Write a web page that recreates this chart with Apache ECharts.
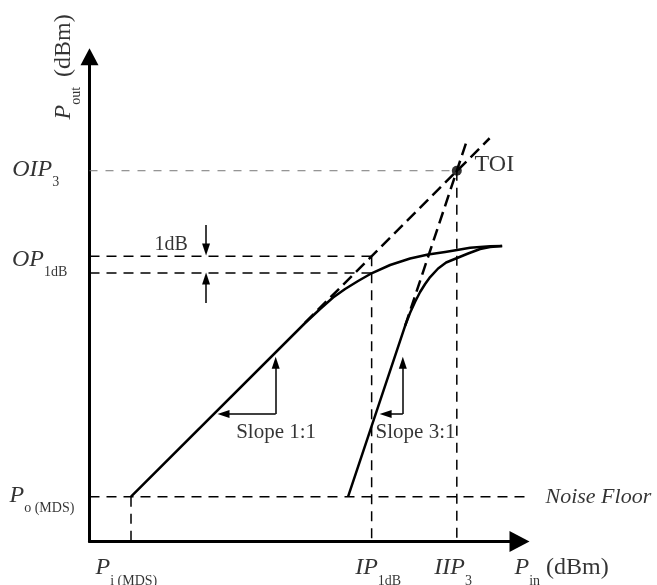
<!DOCTYPE html>
<html><head><meta charset="utf-8">
<script src="https://cdn.jsdelivr.net/npm/echarts@6/dist/echarts.min.js"></script>
<style>html,body{margin:0;padding:0;background:#fff}#c{width:657px;height:585px}</style>
</head><body><div id="c"></div>
<script>
// ---------- data (arbitrary dB units) ----------
// fundamental output (solid, compressing)
const fundIn  = [9.43, 48.98, 52.39, 55.34, 58.07, 61.02, 64.20, 68.30, 72.84, 76.93, 80.80, 83.52, 86.48, 88.75, 91.02, 93.75];
const fundOut = [10.18, 49.66, 52.84, 55.45, 57.39, 59.20, 61.02, 62.84, 64.32, 65.23, 65.80, 66.25, 66.75, 66.95, 67.09, 67.16];
// third-order intermod output (solid)
const imd3In  = [58.75, 71.70, 72.84, 73.98, 75.11, 76.25, 77.39, 79.20, 81.02, 83.52, 86.02, 88.75, 91.02, 93.75];
const imd3Out = [10.18, 49.02, 51.98, 54.50, 56.70, 58.52, 60.11, 62.05, 63.41, 64.43, 65.45, 66.48, 66.93, 67.16];
// extrapolated (dashed) slopes
const fundExtIn = [48.98, 90.9];  const fundExtOut = [49.73, 91.65];
const imd3ExtIn = [71.70, 85.9];  const imd3ExtOut = [49.02, 91.62];
// marked input levels (x) and output levels (y)
const xMarkLabels = ['P|i (MDS)', 'IP|1dB', 'IIP|3'];
const xMarkValues = [9.43, 64.1, 83.45];
const yMarkLabels = ['P|o (MDS)', 'OP|1dB', 'OIP|3'];
const yMarkValues = [10.18, 64.85, 84.27];
const op1dBLower = 61.0;
const noiseFloorEnd = 101.9;
const axisMax = [98.6, 110.8];
// annotation arrows [x0, y0, x1, y1]
const arrows = [
  [26.48, 71.93, 26.48, 66.36],
  [26.48, 54.2, 26.48, 59.77],
  [42.3, 29.0, 42.3, 40.6],
  [42.3, 29.0, 30.45, 29.0],
  [71.18, 29.0, 71.18, 40.6],
  [71.18, 29.0, 67.27, 29.0]
];
const slopeCorners = [[42.3, 29.0], [71.18, 29.0]];
const slopeTexts = ['Slope 1:1', 'Slope 3:1'];

// ---------- chart ----------
const F = 'Liberation Serif';
const rich = {
  m: {fontFamily: F, fontStyle: 'italic', fontSize: 24, lineHeight: 40, color: '#000'},
  s: {fontFamily: F, fontSize: 14, lineHeight: 18, verticalAlign: 'bottom', color: '#000'},
  u: {fontFamily: F, fontSize: 24, lineHeight: 40, color: '#000', padding: [0, 0, 0, 6]},
  w: {fontFamily: F, fontSize: 24, lineHeight: 40, color: '#000', padding: [0, 0, 0, 10]},
  t: {fontFamily: F, fontSize: 24, lineHeight: 26, color: '#000'},
  n: {fontFamily: F, fontStyle: 'italic', fontSize: 22, lineHeight: 26, color: '#000'},
  k: {fontFamily: F, fontSize: 20, lineHeight: 24, color: '#000'},
  q: {fontFamily: F, fontSize: 21, lineHeight: 24, color: '#000'}
};
function sub(s) { const p = s.split('|'); return '{m|' + p[0] + '}{s|' + p[1] + '}'; }
const zip = (a, b) => a.map((v, i) => [v, b[i]]);

function lbl(value, text, pos, extra) {
  return {value: value, label: Object.assign({show: true, formatter: text, position: pos,
    align: 'left', verticalAlign: 'middle', rich: rich}, extra || {})};
}
const labelData = [
  lbl([0, yMarkValues[2]], sub(yMarkLabels[2]), [-76.8, -1]),
  lbl([0, yMarkValues[1]], sub(yMarkLabels[1]), [-77, 4]),
  lbl([0, yMarkValues[0]], sub(yMarkLabels[0]), [-79.5, -1]),
  lbl([xMarkValues[0], 0], sub(xMarkLabels[0]), [-35, 27]),
  lbl([xMarkValues[1], 0], sub(xMarkLabels[1]), [-16, 27]),
  lbl([xMarkValues[2], 0], sub(xMarkLabels[2]), [-22, 27]),
  lbl([axisMax[0], 0], '{m|P}{s|in}{u|(dBm)}', [-8.5, 27]),
  lbl([0, axisMax[1]], '{m|P}{s|out}{w|(dBm)}', [-25.5, 66], {rotate: 90}),
  lbl([xMarkValues[2], yMarkValues[2]], '{t|TOI}', [18.3, -6]),
  lbl([0, yMarkValues[1]], '{k|1dB}', [65.5, -11]),
  lbl(slopeCorners[0], '{q|' + slopeTexts[0] + '}', [-39, 19]),
  lbl(slopeCorners[1], '{q|' + slopeTexts[1] + '}', [-26.7, 19]),
  lbl([0, yMarkValues[0]], '{n|Noise Floor}', [456.5, 1])
];

const guide = (data, color, width, dash) => ({
  type: 'line', data: data, symbol: 'none', silent: true, clip: false,
  lineStyle: {color: color, width: width, type: dash}, z: 1
});

const option = {
  animation: false,
  grid: {left: 89.5, top: 54, width: 434, height: 487.5},
  xAxis: {
    type: 'value', min: 0, max: axisMax[0],
    axisLine: {show: true, onZero: false, symbol: ['none', 'triangle'], symbolSize: [21, 20], symbolOffset: [0, -4],
      lineStyle: {color: '#000', width: 3}},
    axisTick: {show: false}, axisLabel: {show: false}, splitLine: {show: false}
  },
  yAxis: {
    type: 'value', min: 0, max: axisMax[1],
    axisLine: {show: true, onZero: false, symbol: ['none', 'triangle'], symbolSize: [18, 17], symbolOffset: [0, -2.8],
      lineStyle: {color: '#000', width: 3}},
    axisTick: {show: false}, axisLabel: {show: false}, splitLine: {show: false}
  },
  series: [
    guide([[0, yMarkValues[2]], [xMarkValues[2], yMarkValues[2]]], '#777', 1, [8, 8]),
    guide([[xMarkValues[2], yMarkValues[2]], [xMarkValues[2], 0]], '#000', 1.5, [10, 7]),
    guide([[0, yMarkValues[1]], [xMarkValues[1], yMarkValues[1]]], '#000', 1.5, [10, 7]),
    guide([[0, op1dBLower], [xMarkValues[1], op1dBLower]], '#000', 1.5, [10, 7]),
    guide([[xMarkValues[1], yMarkValues[1]], [xMarkValues[1], 0]], '#000', 1.5, [10, 7]),
    guide([[0, yMarkValues[0]], [noiseFloorEnd, yMarkValues[0]]], '#000', 1.5, [10, 7]),
    guide([[xMarkValues[0], yMarkValues[0]], [xMarkValues[0], 0]], '#000', 1.5, [10, 7]),
    guide(zip(fundExtIn, fundExtOut), '#000', 2.5, [12, 6]),
    guide(zip(imd3ExtIn, imd3ExtOut), '#000', 2.5, [12, 6]),
    {type: 'line', data: zip(fundIn, fundOut), symbol: 'none', smooth: false, silent: true,
      lineStyle: {color: '#000', width: 2.5, join: 'round'}, z: 3},
    {type: 'line', data: zip(imd3In, imd3Out), symbol: 'none', smooth: false, silent: true,
      lineStyle: {color: '#000', width: 2.5, join: 'round'}, z: 3},
    {type: 'scatter', data: [[xMarkValues[2], yMarkValues[2]]], symbolSize: 10, silent: true,
      itemStyle: {color: '#000'}, z: 5,
      markLine: {silent: true, animation: false,
        symbol: ['none', 'path://M4,0L8,12L0,12Z'], symbolKeepAspect: true, symbolSize: 12,
        label: {show: false}, lineStyle: {color: '#000', width: 1.5, type: 'solid'},
        itemStyle: {color: '#000'}, emphasis: {disabled: true},
        data: arrows.map(a => [{coord: [a[0], a[1]]}, {coord: [a[2], a[3]]}])}
    },
    {type: 'scatter', data: labelData, symbolSize: 1, silent: true,
      itemStyle: {color: 'rgba(0,0,0,0)'}, z: 6}
  ]
};
const chart = echarts.init(document.getElementById('c'), null, {renderer: 'canvas'});
chart.setOption(option);
</script></body></html>
